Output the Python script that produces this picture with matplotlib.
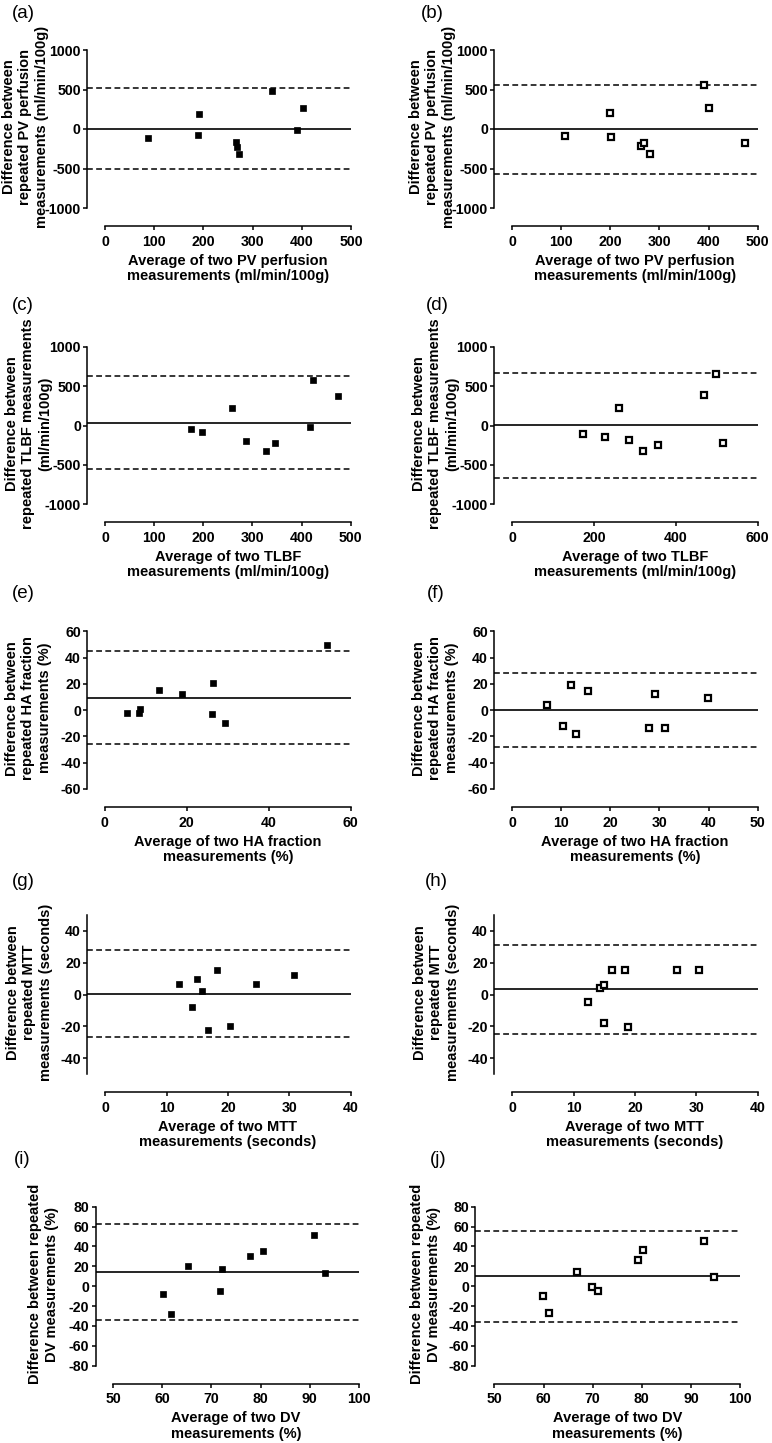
import matplotlib
matplotlib.use("Agg")
import matplotlib.pyplot as plt

plt.rcParams['font.family'] = ['Liberation Sans', 'DejaVu Sans']
plt.rcParams['axes.unicode_minus'] = False

# ---------------- data ----------------
a_x = [87, 188, 192, 266, 269, 273, 339, 390, 403]
a_y = [-115, -77, 187, -170, -234, -311, 481, -13, 264]
a_lines = [1, 513, -511]          # mean, upper LoA, lower LoA

b_x = [108, 199, 202, 263, 269, 281, 391, 400, 474]
b_y = [-88, 202, -101, -215, -173, -316, 560, 265, -177]
b_lines = [-5, 557, -567]

c_x = [176, 197, 258, 287, 327, 346, 417, 424, 475]
c_y = [-42, -80, 224, -195, -321, -220, -17, 583, 372]
c_lines = [36, 622, -554]

d_x = [174, 228, 261, 286, 320, 357, 470, 497, 515]
d_y = [-114, -148, 228, -186, -321, -245, 389, 655, -220]
d_lines = [4, 668, -660]

e_x = [5.3, 8.4, 8.6, 13.2, 18.8, 26.2, 26.5, 29.3, 54.3]
e_y = [-1.8, -1.8, 0.8, 15.2, 12.2, -2.8, 20.8, -9.9, 49.5]
e_lines = [9.3, 44.7, -26.1]

f_x = [7.2, 10.3, 12.1, 13.0, 15.4, 27.9, 29.1, 31.1, 39.9]
f_y = [3.8, -11.7, 18.8, -17.8, 14.7, -13.5, 12.2, -13.5, 9.4]
f_lines = [0.2, 28.2, -27.9]

g_x = [12.0, 14.1, 15.0, 15.7, 16.8, 18.3, 20.3, 24.6, 30.7]
g_y = [6.8, -7.6, 9.6, 2.3, -22.5, 15.3, -19.7, 6.4, 12.3]
g_lines = [0.4, 27.8, -27.0]

h_x = [12.4, 14.3, 14.9, 14.9, 16.3, 18.4, 18.9, 26.8, 30.5]
h_y = [-4.7, 3.8, 6.2, -17.8, 15.3, 15.3, -20.5, 15.1, 15.3]
h_lines = [3.2, 31.0, -24.8]

i_x = [60.1, 61.7, 65.2, 71.7, 72.1, 77.9, 80.4, 90.8, 93.1]
i_y = [-8.1, -27.9, 20.1, -5.0, 17.1, 30.5, 35.2, 51.7, 12.8]
i_lines = [14.2, 62.1, -34.2]

j_x = [59.8, 61.2, 66.9, 69.8, 71.1, 79.2, 80.3, 92.6, 94.8]
j_y = [-9.4, -26.5, 14.4, -1.0, -4.7, 26.8, 36.9, 45.9, 9.7]
j_lines = [10.1, 56.0, -35.9]

ylab_pv = ["Difference between", "repeated PV perfusion", "measurements (ml/min/100g)"]
xlab_pv = "Average of two PV perfusion\nmeasurements (ml/min/100g)"
ylab_tl = ["Difference between", "repeated TLBF measurements", "(ml/min/100g)"]
xlab_tl = "Average of two TLBF\nmeasurements (ml/min/100g)"
ylab_ha = ["Difference between", "repeated HA fraction", "measurements (%)"]
xlab_ha = "Average of two HA fraction\nmeasurements (%)"
ylab_mt = ["Difference between", "repeated MTT", "measurements (seconds)"]
xlab_mt = "Average of two MTT\nmeasurements (seconds)"
ylab_dv = ["Difference between repeated", "DV measurements (%)"]
xlab_dv = "Average of two DV\nmeasurements (%)"

W, H = 772, 1443
fig = plt.figure(figsize=(W / 100, H / 100), dpi=100)

panels = [
    # label, x, y, lines, filled, box(px: left,right,top,bottom), xlim, xticks, ylim, yticks,
    # xlabel, ylabel lines, panel-label pos, ylabel centre x offset from y-axis (px)
    ("(a)", a_x, a_y, a_lines, True, (87, 351, 50, 208), (-36.6, 500), range(0, 501, 100),
     (-1000, 1000), range(-1000, 1001, 500), xlab_pv, ylab_pv, (12, 14), 61.5),
    ("(b)", b_x, b_y, b_lines, False, (494.3, 757.7, 50, 208), (-36, 500), range(0, 501, 100),
     (-1000, 1000), range(-1000, 1001, 500), xlab_pv, ylab_pv, (421, 14), 62),
    ("(c)", c_x, c_y, c_lines, True, (87.3, 350.7, 346.7, 504.3), (-36, 500), range(0, 501, 100),
     (-1000, 1000), range(-1000, 1001, 500), xlab_tl, ylab_tl, (12, 305), 59),
    ("(d)", d_x, d_y, d_lines, False, (494.3, 757.7, 346.7, 504.3), (-43.2, 600), range(0, 601, 200),
     (-1000, 1000), range(-1000, 1001, 500), xlab_tl, ylab_tl, (426, 305), 59),
    ("(e)", e_x, e_y, e_lines, True, (87.3, 350.7, 631.3, 789), (-4.3, 60), range(0, 61, 20),
     (-60, 60), range(-60, 61, 20), xlab_ha, ylab_ha, (12, 594), 59),
    ("(f)", f_x, f_y, f_lines, False, (494.3, 757.7, 631.3, 789), (-3.6, 50), range(0, 51, 10),
     (-60, 60), range(-60, 61, 20), xlab_ha, ylab_ha, (427, 594), 59),
    ("(g)", g_x, g_y, g_lines, True, (87.3, 350.7, 915, 1074), (-2.9, 40), range(0, 41, 10),
     (-50, 50), range(-40, 41, 20), xlab_mt, ylab_mt, (12, 882), 58),
    ("(h)", h_x, h_y, h_lines, False, (494.3, 757.7, 915, 1074), (-2.9, 40), range(0, 41, 10),
     (-50, 50), range(-40, 41, 20), xlab_mt, ylab_mt, (425, 882), 58),
    ("(i)", i_x, i_y, i_lines, True, (95.7, 358.7, 1206.7, 1365.7), (46.4, 100), range(50, 101, 10),
     (-80, 80), range(-80, 81, 20), xlab_dv, ylab_dv, (14, 1159), 52),
    ("(j)", j_x, j_y, j_lines, False, (475.3, 740, 1206.7, 1365.7), (46.1, 100), range(50, 101, 10),
     (-80, 80), range(-80, 81, 20), xlab_dv, ylab_dv, (430, 1159), 50),
]

LW = 1.1
LABEL_FS = 10.5
LINE_STEP = 16.5   # px between label lines
for (lab, xs, ys, lines, filled, box, xlim, xticks, ylim, yticks, xlabel, ylabel, lpos, yoff) in panels:
    l, r, t, b = box
    ax = fig.add_axes([l / W, 1 - b / H, (r - l) / W, (b - t) / H])
    ax.set_xlim(*xlim)
    ax.set_ylim(*ylim)
    mean, up, lo = lines
    ax.axhline(mean, color='black', lw=1.2, zorder=2)
    ax.axhline(up, color='black', lw=1.1, linestyle=(0, (3.8, 2.2)), zorder=2)
    ax.axhline(lo, color='black', lw=1.1, linestyle=(0, (3.8, 2.2)), zorder=2)
    if filled:
        ax.plot(xs, ys, linestyle='none', marker='s', ms=4.9, mfc='black', mec='black',
                mew=0.5, zorder=3, clip_on=False)
    else:
        ax.plot(xs, ys, linestyle='none', marker='s', ms=4.9, mfc='white', mec='black',
                mew=1.6, zorder=3, clip_on=False)
    ax.set_xticks(list(xticks))
    ax.set_yticks(list(yticks))
    for sp in ('top', 'right'):
        ax.spines[sp].set_visible(False)
    ax.spines['left'].set_linewidth(LW)
    ax.spines['bottom'].set_linewidth(LW)
    ax.spines['bottom'].set_position(('outward', 13))
    ax.spines['bottom'].set_bounds(xticks[0], xticks[-1])
    ax.tick_params(axis='both', direction='out', length=3, width=LW, labelsize=10.2)
    ax.tick_params(axis='y', pad=1.5)
    ax.tick_params(axis='x', pad=3.2)
    for tl in ax.get_xticklabels() + ax.get_yticklabels():
        tl.set_fontweight('bold')
    ax.set_xlabel(xlabel, fontsize=LABEL_FS, fontweight='bold', labelpad=3.5, linespacing=1.12)
    # centre the x label on the drawn x-axis line
    x0, x1 = xlim
    ax.xaxis.label.set_x(((xticks[0] + xticks[-1]) / 2 - x0) / (x1 - x0))
    # y label: one text per line so it can sit next to the tick labels like the original
    n = len(ylabel)
    cx = l - yoff
    cy = (t + b) / 2 - 2
    for k, line in enumerate(ylabel):
        px = cx + (k - (n - 1) / 2) * LINE_STEP
        fig.text(px / W, 1 - cy / H, line, rotation=90, ha='center', va='center',
                 fontsize=LABEL_FS, fontweight='bold')
    fig.text(lpos[0] / W, 1 - lpos[1] / H, lab, fontsize=13.5, ha='left', va='center')

fig.savefig("out.png", dpi=100)
